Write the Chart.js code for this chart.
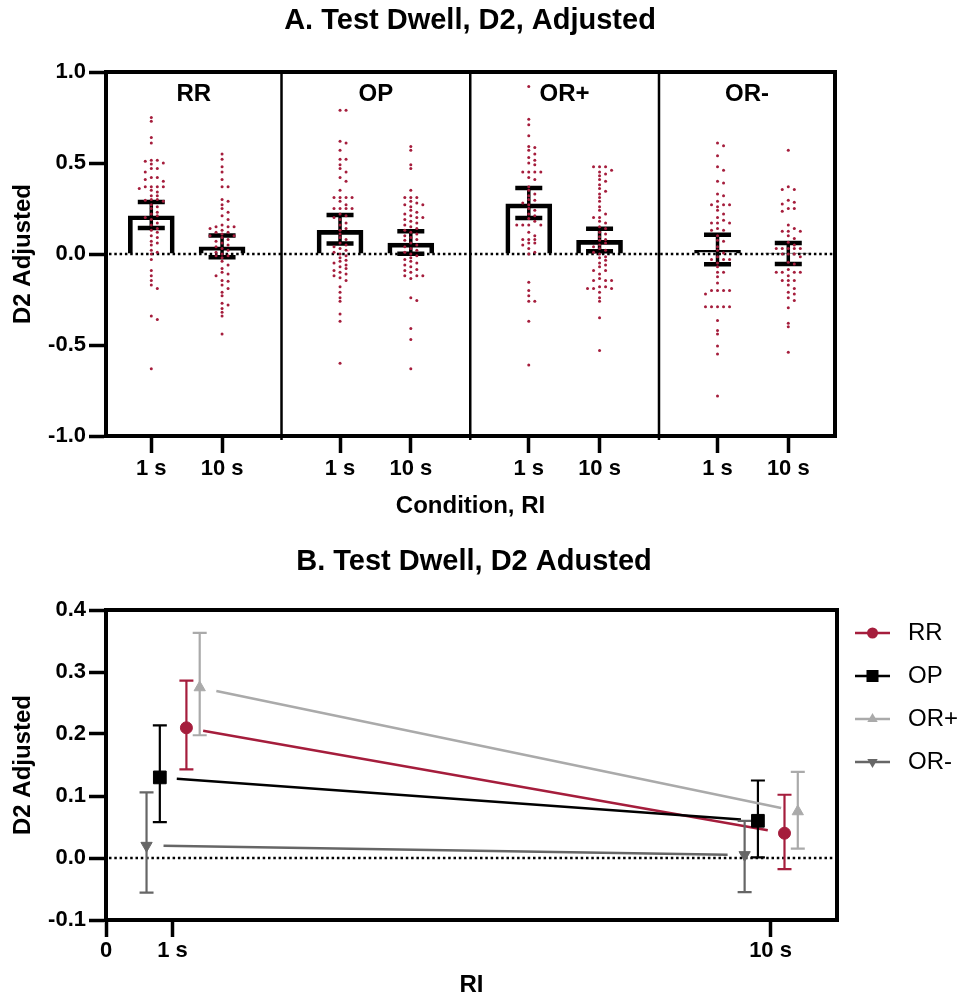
<!DOCTYPE html>
<html>
<head>
<meta charset="utf-8">
<title>Test Dwell, D2 Adjusted</title>
<script src="https://cdn.jsdelivr.net/npm/chart.js@4/dist/chart.umd.min.js"></script>
<style>
  html, body { margin: 0; padding: 0; background: #fff; }
  canvas { display: block; }
</style>
</head>
<body>
<canvas id="panel-a" width="962" height="530"></canvas>
<canvas id="panel-b" width="962" height="470"></canvas>
<script>
// categories
const conditions = ['RR', 'OP', 'OR+', 'OR-']
const riLabels = ['1 s', '10 s']
const riValues = [1, 10]

// individual scores
const rrOneS = [0.75, 0.73, 0.64, 0.61, 0.515, 0.515, 0.51, 0.50, 0.495, 0.47, 0.47, 0.45, 0.42, 0.42, 0.41, 0.40, 0.37, 0.37, 0.37, 0.37, 0.36, 0.35, 0.34, 0.32, 0.32, 0.30, 0.30, 0.295, 0.29, 0.27, 0.26, 0.25, 0.23, 0.22, 0.21, 0.20, 0.19, 0.17, 0.16, 0.14, 0.13, 0.12, 0.10, 0.09, 0.07, 0.06, 0.05, 0.02, 0.01, 0.0, -0.03, -0.09, -0.12, -0.145, -0.17, -0.19, -0.34, -0.36, -0.63]
const rrTenS = [0.55, 0.52, 0.48, 0.45, 0.41, 0.37, 0.37, 0.30, 0.29, 0.27, 0.25, 0.23, 0.21, 0.19, 0.16, 0.15, 0.15, 0.15, 0.14, 0.13, 0.12, 0.12, 0.11, 0.10, 0.10, 0.09, 0.08, 0.07, 0.06, 0.05, 0.04, 0.03, 0.02, 0.01, 0.0, -0.01, -0.01, -0.02, -0.04, -0.06, -0.08, -0.10, -0.11, -0.12, -0.145, -0.15, -0.17, -0.19, -0.21, -0.23, -0.27, -0.28, -0.30, -0.32, -0.34, -0.44]
const opOneS = [0.79, 0.79, 0.62, 0.61, 0.57, 0.52, 0.52, 0.49, 0.47, 0.45, 0.42, 0.40, 0.35, 0.31, 0.31, 0.31, 0.31, 0.29, 0.27, 0.25, 0.25, 0.25, 0.25, 0.22, 0.21, 0.20, 0.19, 0.17, 0.16, 0.14, 0.13, 0.11, 0.09, 0.08, 0.06, 0.05, 0.04, 0.03, 0.02, 0.01, 0.0, -0.01, -0.02, -0.035, -0.04, -0.05, -0.06, -0.07, -0.08, -0.09, -0.10, -0.11, -0.12, -0.13, -0.145, -0.18, -0.21, -0.24, -0.26, -0.33, -0.37, -0.60]
const opTenS = [0.59, 0.57, 0.49, 0.47, 0.35, 0.31, 0.31, 0.31, 0.29, 0.28, 0.27, 0.27, 0.26, 0.24, 0.23, 0.22, 0.21, 0.20, 0.20, 0.19, 0.18, 0.17, 0.16, 0.15, 0.14, 0.13, 0.12, 0.11, 0.10, 0.09, 0.08, 0.075, 0.06, 0.05, 0.04, 0.03, 0.02, 0.01, 0.0, -0.01, -0.02, -0.03, -0.04, -0.05, -0.06, -0.07, -0.085, -0.09, -0.10, -0.12, -0.12, -0.12, -0.135, -0.24, -0.255, -0.41, -0.47, -0.63]
const orpOneS = [1.0, 0.92, 0.74, 0.71, 0.65, 0.59, 0.585, 0.57, 0.55, 0.53, 0.515, 0.50, 0.49, 0.45, 0.45, 0.45, 0.45, 0.42, 0.41, 0.37, 0.35, 0.33, 0.32, 0.30, 0.295, 0.28, 0.27, 0.25, 0.24, 0.22, 0.21, 0.195, 0.18, 0.16, 0.16, 0.16, 0.16, 0.12, 0.10, 0.08, 0.08, 0.08, 0.06, 0.06, 0.05, 0.03, 0.01, 0.0, -0.155, -0.20, -0.23, -0.26, -0.26, -0.37, -0.61]
const orpTenS = [0.48, 0.48, 0.48, 0.46, 0.45, 0.44, 0.43, 0.41, 0.40, 0.38, 0.36, 0.345, 0.33, 0.31, 0.29, 0.26, 0.24, 0.22, 0.20, 0.20, 0.18, 0.17, 0.15, 0.14, 0.12, 0.11, 0.095, 0.08, 0.075, 0.06, 0.05, 0.04, 0.03, 0.02, 0.01, 0.0, -0.015, -0.02, -0.035, -0.05, -0.06, -0.07, -0.09, -0.09, -0.11, -0.135, -0.145, -0.145, -0.145, -0.18, -0.18, -0.19, -0.19, -0.19, -0.21, -0.24, -0.26, -0.35, -0.53]
const ormOneS = [0.61, 0.595, 0.54, 0.48, 0.46, 0.40, 0.39, 0.33, 0.32, 0.29, 0.27, 0.27, 0.27, 0.26, 0.24, 0.22, 0.20, 0.185, 0.17, 0.17, 0.17, 0.14, 0.13, 0.13, 0.10, 0.075, 0.07, 0.04, 0.02, 0.005, -0.015, -0.03, -0.03, -0.03, -0.05, -0.07, -0.10, -0.10, -0.125, -0.16, -0.20, -0.20, -0.20, -0.20, -0.22, -0.29, -0.29, -0.29, -0.29, -0.29, -0.365, -0.42, -0.44, -0.505, -0.55, -0.78]
const ormTenS = [0.57, 0.37, 0.355, 0.355, 0.295, 0.285, 0.275, 0.25, 0.25, 0.235, 0.16, 0.14, 0.125, 0.125, 0.125, 0.10, 0.085, 0.065, 0.05, 0.03, 0.03, 0.03, 0.03, 0.03, 0.0, 0.0, 0.0, -0.015, -0.045, -0.055, -0.085, -0.10, -0.10, -0.10, -0.10, -0.12, -0.145, -0.145, -0.145, -0.17, -0.19, -0.21, -0.22, -0.24, -0.255, -0.295, -0.38, -0.40, -0.54]

// group means and error bar ends, per condition (RR, OP, OR+, OR-)
const meanOneS = [0.21, 0.13, 0.275, 0.02]
const meanTenS = [0.04, 0.06, 0.075, 0.005]
const lowOneS = [0.143, 0.058, 0.198, -0.056]
const highOneS = [0.286, 0.214, 0.363, 0.106]
const lowTenS = [-0.018, 0.001, 0.015, -0.055]
const highTenS = [0.102, 0.125, 0.139, 0.06]

// tick labels
const yTicksA = [-1, -0.5, 0, 0.5, 1]
const yTicksB = [-0.1, 0, 0.1, 0.2, 0.3, 0.4]
const riTicksB = [0, 1, 10]
const riTickLabelsB = ['0', '1 s', '10 s']

// --- styling / layout ---
const FONT = "'Liberation Sans', Arial, sans-serif"
Chart.defaults.font.family = FONT
Chart.defaults.color = '#000'

const DOT_RED = '#a51d3c'
const seriesColors = ['#a51d3c', '#000000', '#aaaaaa', '#666666']
const pointStyles = ['circle', 'rect', 'triangle', 'triangle']
const pointRotations = [0, 0, 0, 180]
const pointSizes = [6, 9, 6.5, 6.5]
const nudgeB = [0.21, -0.19, 0.41, -0.39]

const PANEL_STEP = 2.667
const X_MIN_A = -0.64
const X_MAX_A = 3 * PANEL_STEP + 1.66
const DIVIDER_OFFSET = 1.84
const SWARM_STEP = 0.085
const SWARM_GAP = 0.02

const groups = [[rrOneS, rrTenS], [opOneS, opTenS], [orpOneS, orpTenS], [ormOneS, ormTenS]]

function groupX(i, j) {
  return i * PANEL_STEP + j
}

// spread points sideways when they would overlap, like a column scatter
function swarm(values, center) {
  const placed = []
  return values.slice().sort((a, b) => b - a).map(v => {
    let col = 0
    for (let k = 0; k < 40; k++) {
      const c = k === 0 ? 0 : (k % 2 ? (k + 1) / 2 : -k / 2)
      if (!placed.some(p => p.c === c && Math.abs(p.v - v) < SWARM_GAP)) { col = c; break }
    }
    placed.push({ c: col, v })
    return { x: center + col * SWARM_STEP, y: v }
  })
}

function dottedZero(ctx, area, yPix) {
  ctx.save()
  ctx.strokeStyle = '#000'
  ctx.lineWidth = 2.5
  ctx.setLineDash([2.5, 2.8])
  ctx.beginPath()
  ctx.moveTo(area.left + 3, yPix)
  ctx.lineTo(area.right - 2, yPix)
  ctx.stroke()
  ctx.restore()
}

function drawFrame(ctx, a) {
  ctx.save()
  ctx.strokeStyle = '#000'
  ctx.lineWidth = 4
  ctx.beginPath()
  ctx.moveTo(a.left - 2, a.top)
  ctx.lineTo(a.right, a.top)
  ctx.lineTo(a.right, a.bottom + 2)
  ctx.stroke()
  ctx.restore()
}

function drawTitle(ctx, text, x, y) {
  ctx.save()
  ctx.font = 'bold 29px ' + FONT
  ctx.fillStyle = '#000'
  ctx.textAlign = 'center'
  ctx.textBaseline = 'middle'
  ctx.fillText(text, x, y)
  ctx.restore()
}

function drawMarker(ctx, style, rot, x, y, r) {
  ctx.beginPath()
  if (style === 'circle') {
    ctx.arc(x, y, r, 0, Math.PI * 2)
  } else if (style === 'rect') {
    const s = r * Math.SQRT1_2
    ctx.rect(x - s, y - s, 2 * s, 2 * s)
  } else {
    let rad = rot * Math.PI / 180
    for (let k = 0; k < 3; k++) {
      const px = x + Math.sin(rad) * r
      const py = y - Math.cos(rad) * r
      k ? ctx.lineTo(px, py) : ctx.moveTo(px, py)
      rad += Math.PI * 2 / 3
    }
    ctx.closePath()
  }
  ctx.fill()
}

const fixedAxis = {
  offset: false,
  grid: { display: true, offset: false, drawOnChartArea: false, drawTicks: true, tickLength: 17, tickWidth: 3.5, tickColor: '#000' },
  border: { display: true, color: '#000', width: 4 }
}

// --- panel A ---
const dots = []
const bars = []
conditions.forEach((c, i) => {
  groups[i].forEach((values, j) => {
    dots.push(...swarm(values, groupX(i, j)))
  })
  bars.push({ x: groupX(i, 0), y: meanOneS[i] }, { x: groupX(i, 1), y: meanTenS[i] })
})

const panelAPlugin = {
  id: 'panelA',
  beforeDatasetsDraw(chart) {
    dottedZero(chart.ctx, chart.chartArea, chart.scales.y.getPixelForValue(0))
  },
  afterDatasetDraw(chart, args) {
    if (args.index !== 1) return
    const { ctx, scales: { x, y } } = chart
    ctx.save()
    ctx.strokeStyle = '#000'
    conditions.forEach((c, i) => {
      [[lowOneS, highOneS], [lowTenS, highTenS]].forEach(([lo, hi], j) => {
        const cx = x.getPixelForValue(groupX(i, j))
        const y0 = y.getPixelForValue(lo[i])
        const y1 = y.getPixelForValue(hi[i])
        ctx.lineWidth = 3.5
        ctx.beginPath()
        ctx.moveTo(cx, y0)
        ctx.lineTo(cx, y1)
        ctx.stroke()
        ctx.lineWidth = 4.5
        ctx.beginPath()
        ctx.moveTo(cx - 13.5, y0)
        ctx.lineTo(cx + 13.5, y0)
        ctx.moveTo(cx - 13.5, y1)
        ctx.lineTo(cx + 13.5, y1)
        ctx.stroke()
      })
    })
    ctx.restore()
  },
  afterDraw(chart) {
    const { ctx, chartArea: a, scales: { x } } = chart
    drawFrame(ctx, a)
    const edges = [a.left]
    ctx.save()
    ctx.strokeStyle = '#000'
    ctx.lineWidth = 2.5
    for (let k = 0; k < conditions.length - 1; k++) {
      const px = x.getPixelForValue(k * PANEL_STEP + DIVIDER_OFFSET)
      edges.push(px)
      ctx.beginPath()
      ctx.moveTo(px, a.top)
      ctx.lineTo(px, a.bottom + 4)
      ctx.stroke()
    }
    edges.push(a.right)
    ctx.font = 'bold 24px ' + FONT
    ctx.fillStyle = '#000'
    ctx.textAlign = 'center'
    ctx.textBaseline = 'middle'
    conditions.forEach((c, i) => {
      ctx.fillText(c, (edges[i] + edges[i + 1]) / 2, a.top + 22)
    })
    ctx.restore()
    drawTitle(ctx, 'A. Test Dwell, D2, Adjusted', 470, 21)
  }
}

new Chart(document.getElementById('panel-a'), {
  type: 'bar',
  data: {
    datasets: [
      {
        type: 'scatter',
        data: dots,
        pointRadius: 1.5,
        pointBackgroundColor: DOT_RED,
        pointBorderWidth: 0,
        order: 1
      },
      {
        type: 'bar',
        data: bars,
        backgroundColor: 'transparent',
        borderColor: '#000',
        borderWidth: 4,
        borderSkipped: 'start',
        barThickness: 46,
        order: 2
      }
    ]
  },
  options: {
    responsive: false,
    animation: false,
    devicePixelRatio: 1,
    layout: { padding: { top: 72, right: 127, bottom: 0, left: 0 } },
    plugins: { legend: { display: false }, tooltip: { enabled: false } },
    scales: {
      x: {
        ...fixedAxis,
        type: 'linear',
        min: X_MIN_A,
        max: X_MAX_A,
        afterBuildTicks: s => { s.ticks = conditions.flatMap((c, i) => [{ value: groupX(i, 0) }, { value: groupX(i, 1) }]) },
        afterFit: s => { s.height = 94 },
        ticks: {
          autoSkip: false,
          maxRotation: 0,
          padding: 3,
          font: { size: 22, weight: 'bold' },
          callback: (v, i) => riLabels[i % 2]
        },
        title: { display: true, text: 'Condition, RI', font: { size: 24, weight: 'bold' }, padding: { top: 4, bottom: 9 } }
      },
      y: {
        ...fixedAxis,
        min: -1,
        max: 1,
        afterBuildTicks: s => { s.ticks = yTicksA.map(v => ({ value: v })) },
        afterFit: s => { s.width = 106 },
        ticks: { padding: 3, font: { size: 22, weight: 'bold' }, callback: v => v.toFixed(1) },
        title: { display: true, text: 'D2 Adjusted', font: { size: 24, weight: 'bold' }, padding: { top: 9, bottom: 0 } }
      }
    }
  },
  plugins: [panelAPlugin]
})

// --- panel B ---
const lowsB = [lowOneS, lowTenS]
const highsB = [highOneS, highTenS]

const seriesB = conditions.map((c, i) => ({
  label: c,
  data: [{ x: riValues[0] + nudgeB[i], y: meanOneS[i] }, { x: riValues[1] + nudgeB[i], y: meanTenS[i] }],
  showLine: false,
  pointStyle: pointStyles[i],
  pointRotation: pointRotations[i],
  pointRadius: pointSizes[i],
  pointBackgroundColor: seriesColors[i],
  pointBorderColor: seriesColors[i],
  pointBorderWidth: 1
}))

const panelBPlugin = {
  id: 'panelB',
  beforeDatasetsDraw(chart) {
    const { ctx, chartArea: a, scales: { x, y } } = chart
    dottedZero(ctx, a, y.getPixelForValue(0))
    ctx.save()
    chart.data.datasets.forEach((ds, i) => {
      const pts = ds.data.map(p => ({ x: x.getPixelForValue(p.x), y: y.getPixelForValue(p.y) }))
      // connecting line, stopped short of the markers
      const dx = pts[1].x - pts[0].x
      const dy = pts[1].y - pts[0].y
      const len = Math.hypot(dx, dy)
      const gap = 17
      ctx.strokeStyle = seriesColors[i]
      ctx.lineWidth = 2.5
      ctx.beginPath()
      ctx.moveTo(pts[0].x + dx / len * gap, pts[0].y + dy / len * gap)
      ctx.lineTo(pts[1].x - dx / len * gap, pts[1].y - dy / len * gap)
      ctx.stroke()
      // error bars
      ctx.lineWidth = 2.2
      ds.data.forEach((p, j) => {
        const cx = pts[j].x
        const y0 = y.getPixelForValue(lowsB[j][i])
        const y1 = y.getPixelForValue(highsB[j][i])
        ctx.beginPath()
        ctx.moveTo(cx, y0)
        ctx.lineTo(cx, y1)
        ctx.moveTo(cx - 7, y0)
        ctx.lineTo(cx + 7, y0)
        ctx.moveTo(cx - 7, y1)
        ctx.lineTo(cx + 7, y1)
        ctx.stroke()
      })
    })
    ctx.restore()
  },
  afterDraw(chart) {
    const { ctx, chartArea: a } = chart
    drawFrame(ctx, a)
    ctx.save()
    ctx.font = '24px ' + FONT
    ctx.textAlign = 'left'
    ctx.textBaseline = 'middle'
    conditions.forEach((c, i) => {
      const ly = a.top + 23 + i * 43
      const lx = a.right + 18
      ctx.strokeStyle = seriesColors[i]
      ctx.fillStyle = seriesColors[i]
      ctx.lineWidth = 2.5
      ctx.beginPath()
      ctx.moveTo(lx, ly)
      ctx.lineTo(lx + 35, ly)
      ctx.stroke()
      drawMarker(ctx, pointStyles[i], pointRotations[i], lx + 17.5, ly, pointSizes[i] - 0.5)
      ctx.fillStyle = '#000'
      ctx.fillText(c, lx + 53, ly)
    })
    ctx.restore()
    drawTitle(ctx, 'B. Test Dwell, D2 Adusted', 474, 32)
  }
}

new Chart(document.getElementById('panel-b'), {
  type: 'scatter',
  data: { datasets: seriesB },
  options: {
    responsive: false,
    animation: false,
    devicePixelRatio: 1,
    layout: { padding: { top: 80, right: 125, bottom: 0, left: 0 } },
    plugins: { legend: { display: false }, tooltip: { enabled: false } },
    scales: {
      x: {
        ...fixedAxis,
        type: 'linear',
        min: 0,
        max: 11,
        afterBuildTicks: s => { s.ticks = riTicksB.map(v => ({ value: v })) },
        afterFit: s => { s.height = 80 },
        ticks: {
          autoSkip: false,
          maxRotation: 0,
          padding: 1,
          font: { size: 22, weight: 'bold' },
          callback: (v, i) => riTickLabelsB[i]
        },
        title: { display: true, text: 'RI', font: { size: 24, weight: 'bold' }, padding: { top: 0, bottom: 0 } }
      },
      y: {
        ...fixedAxis,
        min: -0.1,
        max: 0.4,
        afterBuildTicks: s => { s.ticks = yTicksB.map(v => ({ value: v })) },
        afterFit: s => { s.width = 106 },
        ticks: { padding: 3, font: { size: 22, weight: 'bold' }, callback: v => v.toFixed(1) },
        title: { display: true, text: 'D2 Adjusted', font: { size: 24, weight: 'bold' }, padding: { top: 9, bottom: 0 } }
      }
    }
  },
  plugins: [panelBPlugin]
})
</script>
</body>
</html>
